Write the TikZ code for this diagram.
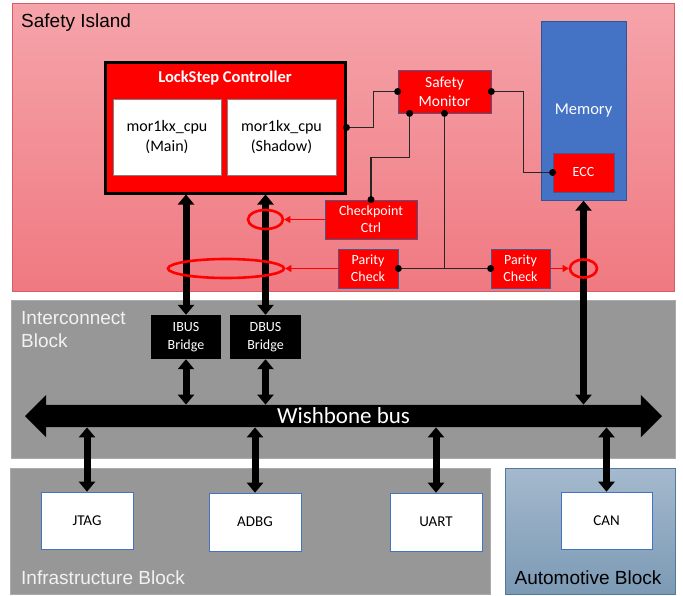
\documentclass[tikz,border=0pt]{standalone}
\usepackage{fontspec}
\setmainfont{Liberation Sans}
\newfontfamily\calfont{Carlito}
\usetikzlibrary{arrows.meta,shapes.geometric,shapes.arrows,positioning}
\definecolor{islandtop}{RGB}{245,164,170}
\definecolor{islandbot}{RGB}{240,121,129}
\definecolor{islandline}{RGB}{214,92,104}
\definecolor{unitline}{RGB}{72,88,140}
\definecolor{memblue}{RGB}{68,114,196}
\definecolor{memline}{RGB}{47,85,151}
\definecolor{blockgray}{RGB}{151,151,151}
\definecolor{blockline}{RGB}{170,170,170}
\definecolor{autotop}{RGB}{164,185,205}
\definecolor{autobot}{RGB}{124,154,181}
\definecolor{autoline}{RGB}{82,122,154}
\definecolor{paletext}{RGB}{242,242,242}
\tikzstyle{block}=[draw=blockline, fill=blockgray, line width=0.8pt, inner sep=0pt]
\tikzstyle{blocktitle}=[anchor=base west, font=\fontsize{19}{23}\selectfont, align=left, inner sep=0pt]
\tikzstyle{unit}=[draw=unitline, fill=red, text=white, line width=0.8pt, inner sep=0pt,
  align=center, font=\calfont\fontsize{14}{17}\selectfont]
\tikzstyle{cpu}=[draw=gray, fill=white, inner sep=0pt, align=center,
  font=\calfont\fontsize{16}{20}\selectfont]
\tikzstyle{bridge}=[fill=black, text=white, inner sep=0pt, align=center,
  font=\calfont\fontsize{14}{18}\selectfont]
\tikzstyle{periph}=[draw=memblue, fill=white, line width=0.6pt, inner sep=0pt,
  font=\calfont\fontsize{15}{18}\selectfont]
\tikzstyle{fatarrow}=[{Triangle[width=16pt,length=10pt]}-{Triangle[width=16pt,length=10pt]}, line width=7pt]
\tikzstyle{ring}=[ellipse, draw=red, line width=2.6pt, inner sep=0pt]
\tikzstyle{probe}=[-{Triangle[width=7pt,length=6pt]}, red, line width=0.8pt]
\tikzstyle{wire}=[line width=1.2pt, black!85]
\tikzstyle{dot}=[circle, fill=black, inner sep=0pt, minimum size=7pt]

\begin{document}
\begin{tikzpicture}[x=1pt, y=-1pt]
  \useasboundingbox (0,0) rectangle (683,595);

  % blocks
  \node[block, draw=islandline, top color=islandtop, bottom color=islandbot,
    minimum width=662pt, minimum height=288pt] (island) at (343,147) {};
  \node[block, minimum width=664pt, minimum height=158pt] (icb) at (343,379) {};
  \node[block, minimum width=480pt, minimum height=126pt] (infra) at (250,531) {};
  \node[block, draw=autoline, top color=autotop, bottom color=autobot,
    minimum width=170pt, minimum height=126pt] (auto) at (590,531) {};

  \node[blocktitle] at (21,27) {Safety Island};
  \node[blocktitle, text=paletext] at (21,347) {Interconnect\\Block};
  \node[blocktitle, text=paletext] at (21,584) {Infrastructure Block};
  \node[blocktitle, anchor=base] at (588,584) {Automotive Block};

  % safety island
  \node[draw=black, fill=red, line width=3pt, minimum width=240pt, minimum height=131pt]
    (lsc) at (225,127.5) {};
  \node[text=white, font=\calfont\bfseries\fontsize{16.5}{19}\selectfont] at (225,78) {LockStep Controller};
  \node[cpu, minimum width=108pt, minimum height=76pt] (main) at (167,137) {mor1kx\_cpu\\(Main)};
  \node[cpu, minimum width=109pt, minimum height=76pt] (shadow) at (281.5,137) {mor1kx\_cpu\\(Shadow)};

  \node[unit, minimum width=93pt, minimum height=43pt, font=\calfont\fontsize{15.5}{19}\selectfont]
    (sm) at (444.5,91.5) {Safety\\Monitor};
  \node[draw=memline, fill=memblue, text=white, inner sep=0pt, minimum width=85pt, minimum height=179pt,
    font=\calfont\fontsize{16.5}{20}\selectfont] (mem) at (583.5,111) {Memory};
  \node[unit, minimum width=61pt, minimum height=39pt] (ecc) at (583.5,172.5) {ECC};
  \node[unit, minimum width=92pt, minimum height=39pt] (ckp) at (371,219.5) {Checkpoint\\Ctrl};
  \node[unit, minimum width=60pt, minimum height=39pt] (par1) at (368,268.5) {Parity\\Check};
  \node[unit, minimum width=59pt, minimum height=39pt] (par2) at (520.5,268.5) {Parity\\Check};

  % interconnect
  \node[bridge, minimum width=70pt, minimum height=44pt] (ibus) at (186,337) {IBUS\\Bridge};
  \node[bridge, minimum width=71pt, minimum height=44pt] (dbus) at (265.5,337) {DBUS\\Bridge};
  \node[double arrow, fill=black, text=white, inner sep=0pt, inner ysep=2pt, text height=16pt, text depth=2pt,
    minimum height=637pt, minimum width=42pt, double arrow head extend=10pt,
    font=\calfont\fontsize{23}{26}\selectfont] (bus) at (343.5,416) {Wishbone bus};

  % peripherals
  \node[periph, minimum width=92pt, minimum height=57pt] (jtag) at (87,520.5) {JTAG};
  \node[periph, minimum width=92pt, minimum height=58pt] (adbg) at (255,522) {ADBG};
  \node[periph, minimum width=92pt, minimum height=58pt] (uart) at (436,522) {UART};
  \node[periph, minimum width=91pt, minimum height=57pt] (can) at (606.5,520.5) {CAN};

  % monitor wiring
  \coordinate (smA) at ([xshift=12pt]sm.south west);
  \draw[wire] (lsc.east) -- ++(27,0) |- (sm.west);
  \draw[wire] (sm.east) -- ++(32,0) |- (ecc.west);
  \draw[wire] (smA) -- ++(0,44) -| (ckp.north);
  \draw[wire] (sm.south) -- (sm.south |- par1.east);
  \draw[wire] (par1.east) -- (par2.west);
  \foreach \p in {lsc.east, sm.west, sm.east, ecc.west, smA, sm.south, ckp.north, par1.east, par2.west}
    \node[dot] at (\p) {};

  % buses
  \draw[fatarrow] (ibus.north) -- (ibus.north |- lsc.south);
  \draw[fatarrow] (dbus.north) -- (dbus.north |- lsc.south);
  \draw[fatarrow] (ibus.south) -- (ibus.south |- bus.north);
  \draw[fatarrow] (dbus.south) -- (dbus.south |- bus.north);
  \draw[fatarrow] (mem.south) -- (mem.south |- bus.north);
  \foreach \p in {jtag, adbg, uart, can}
    \draw[fatarrow] (bus.south -| \p.north) -- (\p.north);

  % error checks
  \node[ring, minimum width=35pt, minimum height=19pt] (ckring) at (dbus.north |- ckp.west) {};
  \node[ring, minimum width=116pt, minimum height=19pt] (parring) at (226,268.5) {};
  \node[ring, minimum width=27pt, minimum height=18pt] (memring) at (mem.south |- par2.east) {};
  \draw[probe] (ckp.west) -- (ckring.east);
  \draw[probe] (par1.west) -- (parring.east);
  \draw[probe] (par2.east) -- (memring.west);
\end{tikzpicture}
\end{document}
